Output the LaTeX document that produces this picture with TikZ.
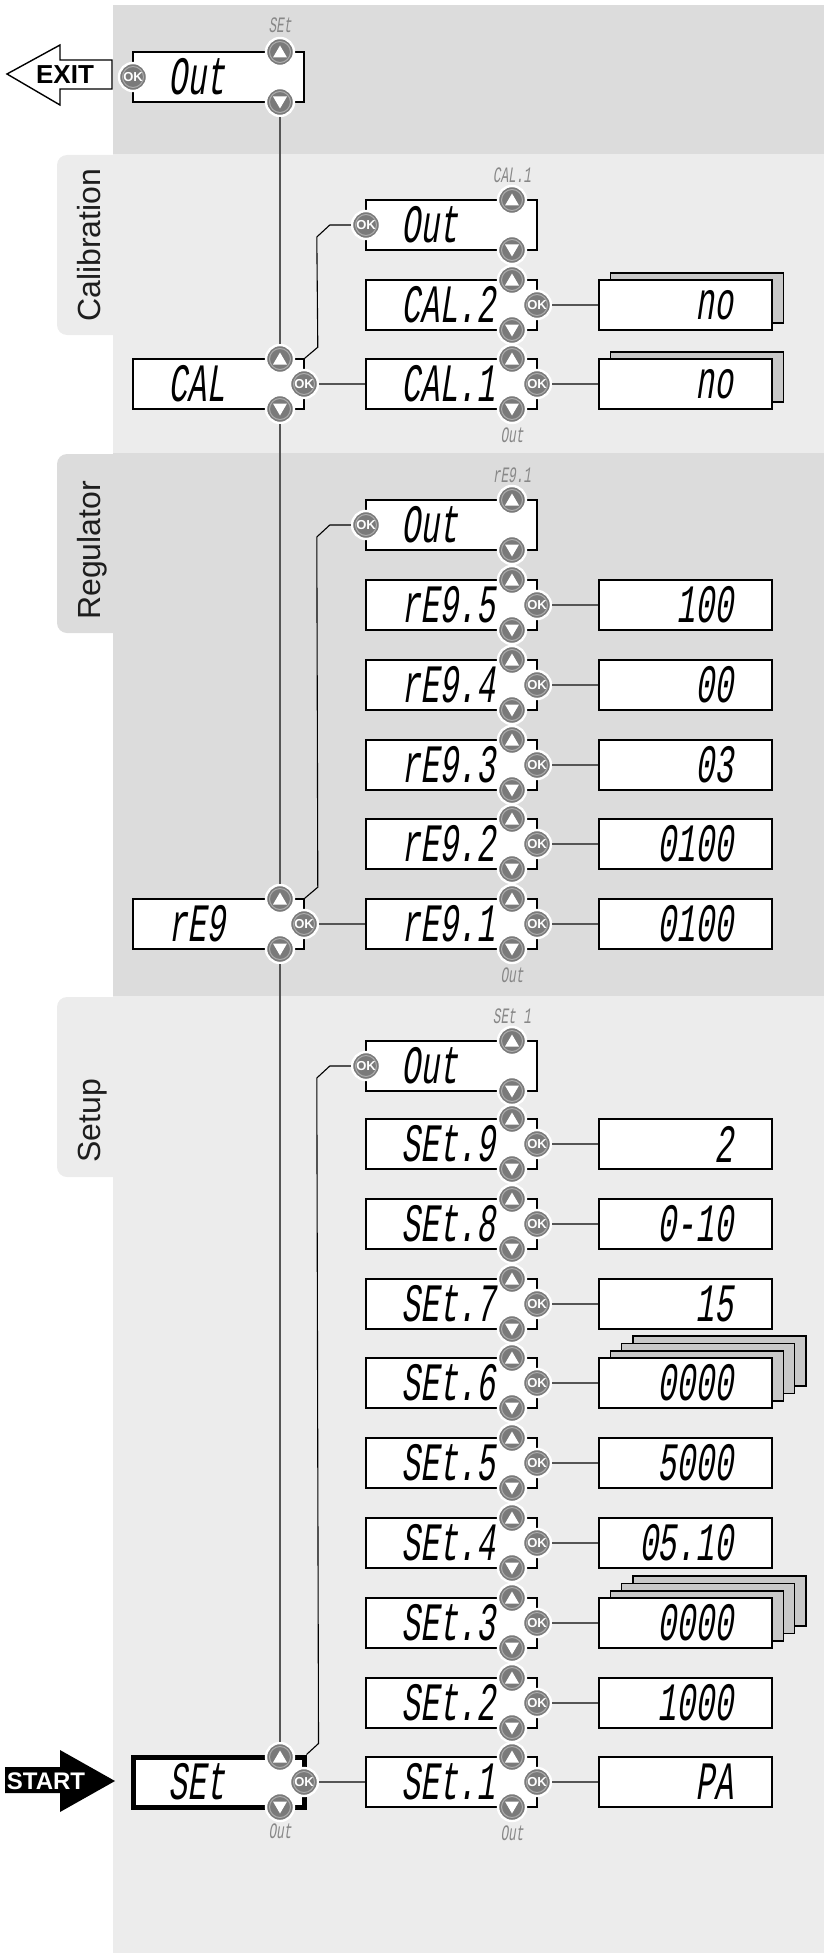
\documentclass[tikz,border=0pt]{standalone}
\usepackage{fontspec}
\setmainfont{Liberation Sans}
\newfontfamily\lcdfont{Liberation Mono}[FakeSlant=0.15,FakeStretch=0.58]
\usepackage{tikz}
\usetikzlibrary{calc}
\definecolor{paneldark}{RGB}{220,220,220}
\definecolor{panellight}{RGB}{236,236,236}
\definecolor{btngray}{RGB}{122,122,122}
\definecolor{btnring}{RGB}{172,172,172}
\definecolor{stackgray}{RGB}{200,200,200}
\definecolor{wiregray}{RGB}{85,85,85}
\definecolor{lblgray}{RGB}{135,135,135}
\definecolor{tabink}{RGB}{30,30,30}
\tikzset{
  lcdbox/.style={rectangle, draw=black, fill=white, line width=1.6pt,
    minimum width=171pt, minimum height=50pt, inner sep=0pt,
    text width=100pt, align=left, font=\fontsize{54}{54}\lcdfont},
  valbox/.style={rectangle, draw=black, fill=white, line width=1.6pt,
    minimum width=173pt, minimum height=50pt, inner sep=0pt,
    text width=95pt, align=right, font=\fontsize{54}{54}\lcdfont},
  valback/.style={valbox, fill=stackgray},
  btn/.style={circle, fill=btngray, draw=white, line width=2.4pt,
    minimum size=28pt, inner sep=0pt},
  btnup/.style={btn, path picture={
    \draw[btnring, line width=1pt] (path picture bounding box.center) circle (10.5pt);
    \fill[white] ([yshift=6.5pt]path picture bounding box.center)
      -- ++(-7pt,-12pt) -- ++(14pt,0pt) -- cycle;}},
  btndn/.style={btn, path picture={
    \draw[btnring, line width=1pt] (path picture bounding box.center) circle (10.5pt);
    \fill[white] ([yshift=-6.5pt]path picture bounding box.center)
      -- ++(-7pt,12pt) -- ++(14pt,0pt) -- cycle;}},
  btnok/.style={btn, text=white, font=\fontsize{13}{13}\selectfont\bfseries,
    path picture={
    \draw[btnring, line width=1pt] (path picture bounding box.center) circle (10.5pt);}},
  glabel/.style={inner sep=0pt, text=lblgray, font=\fontsize{22}{22}\lcdfont},
  tabtext/.style={rotate=90, anchor=base west, inner sep=0pt, text=tabink,
    font=\fontsize{32}{32}\selectfont},
  arrowtext/.style={inner sep=0pt, font=\fontsize{24}{24}\selectfont\bfseries},
  wire/.style={draw=wiregray, line width=1.4pt},
  link/.style={draw=black, line width=1.1pt}
}

\begin{document}
\begin{tikzpicture}[x=1pt, y=-1pt]
    \useasboundingbox (0,0) rectangle (824,1953);
    % Panels and tabs
    \fill[paneldark] (113,5) rectangle (824,154);
    \fill[panellight] (113,154) rectangle (824,453);
    \fill[paneldark] (113,453) rectangle (824,996);
    \fill[panellight] (113,996) rectangle (824,1953);
    \fill[panellight, rounded corners=10pt] (57,155) rectangle (125,335);
    \fill[paneldark, rounded corners=10pt] (57,454) rectangle (125,633);
    \fill[panellight, rounded corners=10pt] (57,997) rectangle (125,1177);
    \node[tabtext] (calTab) at (100,322) {Calibration};
    \node[tabtext] (regTab) at (100,620) {Regulator};
    \node[tabtext] (setTab) at (100,1163) {Setup};

    % Exit arrow
    \draw[fill=white, line width=1.4pt] (7,74) -- (60,45) -- (60,60) -- (112,60)
      -- (112,89) -- (60,89) -- (60,105) -- cycle;
    \node[arrowtext, font=\fontsize{26}{26}\selectfont\bfseries] (exit) at (65,75) {EXIT};

    % Start arrow
    \fill[black] (5,1767) -- (60,1767) -- (60,1750) -- (115,1781) -- (60,1812)
      -- (60,1793) -- (5,1793) -- cycle;
    \node[arrowtext, text=white] (start) at (46,1781) {START};

    % Top exit menu
    \node[lcdbox] (topOut) at (218.5,77) {Out};
    \node[btnok] (topOut-k) at (133,77) {OK};
    \node[btnup] (topOut-u) at (280,52) {};
    \node[btndn] (topOut-d) at (280,102) {};
    \node[glabel] (topOut-l) at (280,25) {SEt};

    % Out rows of the sub menus
    \foreach \n/\y/\lbl in {calOut/225/CAL.1, regOut/525/rE9.1, setOut/1066/SEt 1}{
      \node[lcdbox] (\n) at (451.5,\y) {Out};
      \node[btnok] (\n-k) at (366,\y) {OK};
      \node[btnup] (\n-u) at (512,\y-25) {};
      \node[btndn] (\n-d) at (512,\y+25) {};
      \node[glabel] (\n-l) at (512,\y-50) {\lbl};
    }

    % Parameter rows with values
    \foreach \n/\y/\lbl/\val/\k in {cal2/305/CAL.2/no/1, cal1/384/CAL.1/no/1,
        reg5/605/rE9.5/100/0, reg4/685/rE9.4/00/0, reg3/765/rE9.3/03/0,
        reg2/844/rE9.2/0100/0, reg1/924/rE9.1/0100/0,
        set9/1144/SEt.9/2/0, set8/1224/SEt.8/0-10/0, set7/1304/SEt.7/15/0,
        set6/1383/SEt.6/0000/3, set5/1463/SEt.5/5000/0, set4/1543/SEt.4/05.10/0,
        set3/1623/SEt.3/0000/3, set2/1703/SEt.2/1000/0, set1/1782/SEt.1/PA/0}{
      \ifnum\k>0
        \foreach \j in {\k,...,1}{
          \node[valback] (\n-s\j) at ($(685.5,\y)+\j*(11.3,-7.3)$) {};
        }
      \fi
      \node[valbox] (\n-v) at (685.5,\y) {\val};
      \node[lcdbox] (\n) at (451.5,\y) {\lbl};
      \node[btnup] (\n-u) at (512,\y-25) {};
      \node[btndn] (\n-d) at (512,\y+25) {};
      \node[btnok] (\n-k) at (537,\y) {OK};
      \draw[wire] (\n-k) -- (\n-v);
    }

    % Main menu
    \foreach \n/\y/\lbl/\sub in {cal/384/CAL/calOut, reg/924/rE9/regOut}{
      \node[lcdbox] (\n) at (218.5,\y) {\lbl};
      \node[btnup] (\n-u) at (280,\y-25) {};
      \node[btndn] (\n-d) at (280,\y+25) {};
      \node[btnok] (\n-k) at (304,\y) {OK};
      \draw[link] (\n.north east) -- ++(13,-11) -- ($(\sub-k.west)+(-34,12)$)
        -- ++(13,-12) -- (\sub-k.west);
      \draw[wire] (\n-k) -- (\n1);
    }
    \node[lcdbox, line width=5pt] (set) at (218.5,1782) {SEt};
    \node[btnup] (set-u) at (280,1757) {};
    \node[btndn] (set-d) at (280,1807) {};
    \node[btnok] (set-k) at (304,1782) {OK};
    \draw[link] (set.north east) -- ++(12,-11) -- ($(setOut-k.west)+(-34,12)$)
      -- ++(13,-12) -- (setOut-k.west);
    \draw[wire] (set-k) -- (set1);

    % Spine
    \draw[wire] (topOut-d) -- (cal-u);
    \draw[wire] (cal-d) -- (reg-u);
    \draw[wire] (reg-d) -- (set-u);

    % Exit hints
    \node[glabel] (cal1-l) at (512,435) {Out};
    \node[glabel] (reg1-l) at (512,975) {Out};
    \node[glabel] (set1-l) at (512,1833) {Out};
    \node[glabel] (set-l) at (280,1831) {Out};
\end{tikzpicture}
\end{document}
